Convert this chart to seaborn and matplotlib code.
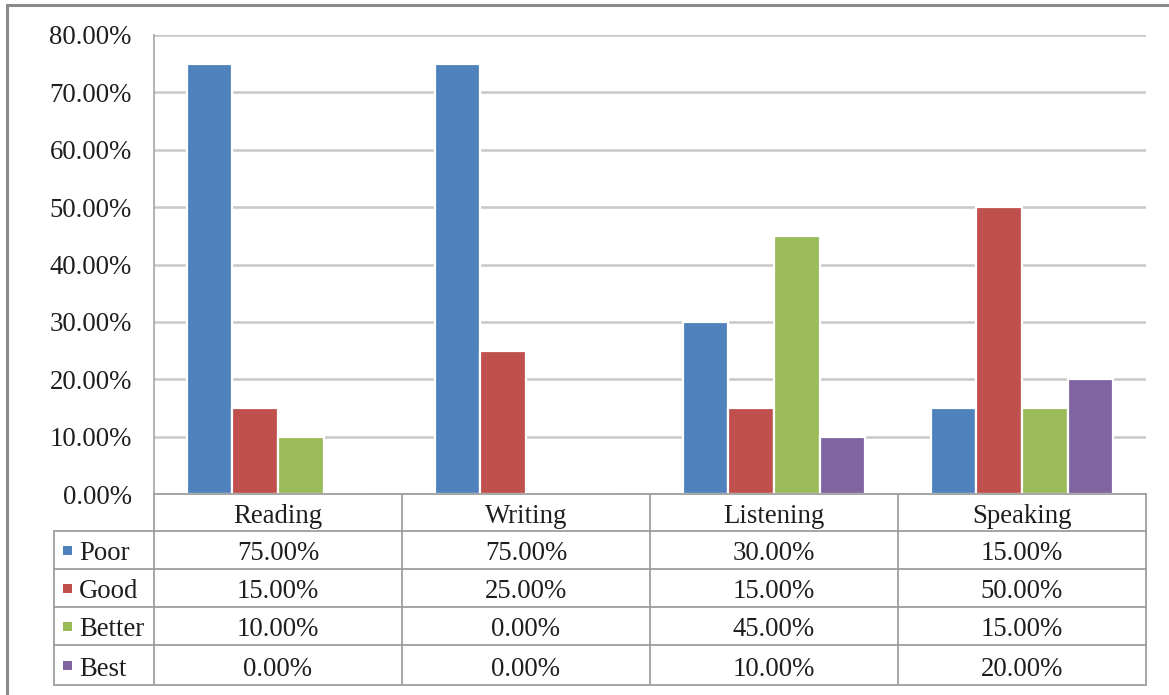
import matplotlib
matplotlib.use("Agg")
import matplotlib.pyplot as plt
from matplotlib.lines import Line2D
from matplotlib.patches import Rectangle
from matplotlib.ticker import FuncFormatter
import seaborn as sns
import pandas as pd

skills = ["Reading", "Writing", "Listening", "Speaking"]
levels = ["Poor", "Good", "Better", "Best"]
poor = [75.0, 75.0, 30.0, 15.0]
good = [15.0, 25.0, 15.0, 50.0]
better = [10.0, 0.0, 45.0, 15.0]
best = [0.0, 0.0, 10.0, 20.0]
yticks = [0, 10, 20, 30, 40, 50, 60, 70, 80]
colors = ["#4F81BD", "#C0504D", "#9BBB59", "#8064A2"]

series = {"Poor": poor, "Good": good, "Better": better, "Best": best}
df = pd.DataFrame(
    [(s, lvl, series[lvl][i]) for lvl in levels for i, s in enumerate(skills)],
    columns=["skill", "level", "value"],
)

sns.set_theme(style="white")
plt.rcParams["font.family"] = ["Liberation Serif", "DejaVu Serif"]

FS = 19.3
TXT = "#1E1E1E"

W, H = 1169, 695
fig = plt.figure(figsize=(W / 100, H / 100), dpi=100)

def fx(px):
    return px / W

def fy(py):
    return 1 - py / H

ax_left, ax_right, ax_top, ax_bottom = 154, 1146, 35, 494
ax = fig.add_axes([fx(ax_left), fy(ax_bottom), fx(ax_right - ax_left), fy(ax_top) - fy(ax_bottom)])

sns.barplot(
    data=df, x="skill", y="value", hue="level", hue_order=levels,
    order=skills, palette=colors, saturation=1, width=0.734, ax=ax, legend=False,
    edgecolor="white", linewidth=1.6, errorbar=None, zorder=3,
)

ax.set_xlim(-0.5, len(skills) - 0.5)
ax.set_ylim(0, 80)
ax.set_yticks(yticks)
ax.yaxis.set_major_formatter(FuncFormatter(lambda v, _: f"{v:.2f}%"))
ax.tick_params(axis="y", labelsize=FS, labelcolor=TXT, length=0, pad=16)
for lab in ax.get_yticklabels():
    lab.set_verticalalignment("center_baseline")
ax.set_xticks([])
ax.set_xlabel("")
ax.set_ylabel("")
ax.grid(axis="y", color="#C8C8C8", linewidth=1.8, zorder=0)
for side in ["top", "right", "bottom"]:
    ax.spines[side].set_visible(False)
ax.spines["left"].set_color("#A6A6A6")
ax.spines["left"].set_linewidth(1.2)

# Data table below the plot
lab_left = 54
row_edges = [494, 531, 569, 607, 645, 685]
col_w = (ax_right - ax_left) / len(skills)
col_edges = [ax_left + i * col_w for i in range(len(skills) + 1)]
line_kw = dict(color="#9E9E9E", linewidth=1.3, transform=fig.transFigure)
txt_kw = dict(transform=fig.transFigure, fontsize=FS, color=TXT, va="center_baseline")

# horizontal lines
fig.add_artist(Line2D([fx(ax_left), fx(ax_right)], [fy(row_edges[0])] * 2, **line_kw))
for r in row_edges[1:]:
    fig.add_artist(Line2D([fx(lab_left), fx(ax_right)], [fy(r)] * 2, **line_kw))
# vertical lines
for c in col_edges:
    fig.add_artist(Line2D([fx(c)] * 2, [fy(row_edges[0]), fy(row_edges[-1])], **line_kw))
fig.add_artist(Line2D([fx(lab_left)] * 2, [fy(row_edges[1]), fy(row_edges[-1])], **line_kw))

# header
for i, s in enumerate(skills):
    cx = (col_edges[i] + col_edges[i + 1]) / 2
    cy = (row_edges[0] + row_edges[1]) / 2 + 1
    fig.text(fx(cx), fy(cy), s, ha="center", **txt_kw)

# rows
for j, lvl in enumerate(levels):
    cy = (row_edges[j + 1] + row_edges[j + 2]) / 2 + 1
    fig.add_artist(Rectangle((fx(63), fy(cy + 4)), fx(9), fy(cy - 5) - fy(cy + 4),
                             transform=fig.transFigure, facecolor=colors[j],
                             edgecolor="none"))
    fig.text(fx(79), fy(cy), lvl, ha="left", **txt_kw)
    for i in range(len(skills)):
        cx = (col_edges[i] + col_edges[i + 1]) / 2
        fig.text(fx(cx), fy(cy), f"{series[lvl][i]:.2f}%", ha="center", **txt_kw)

# outer chart frame
frame_kw = dict(color="#8A8A8A", linewidth=2.2, transform=fig.transFigure)
fig.add_artist(Line2D([fx(7), fx(7)], [fy(5), 0], **frame_kw))
fig.add_artist(Line2D([fx(7), 1], [fy(5), fy(5)], **frame_kw))

fig.savefig("out.png", dpi=100, facecolor="white")
